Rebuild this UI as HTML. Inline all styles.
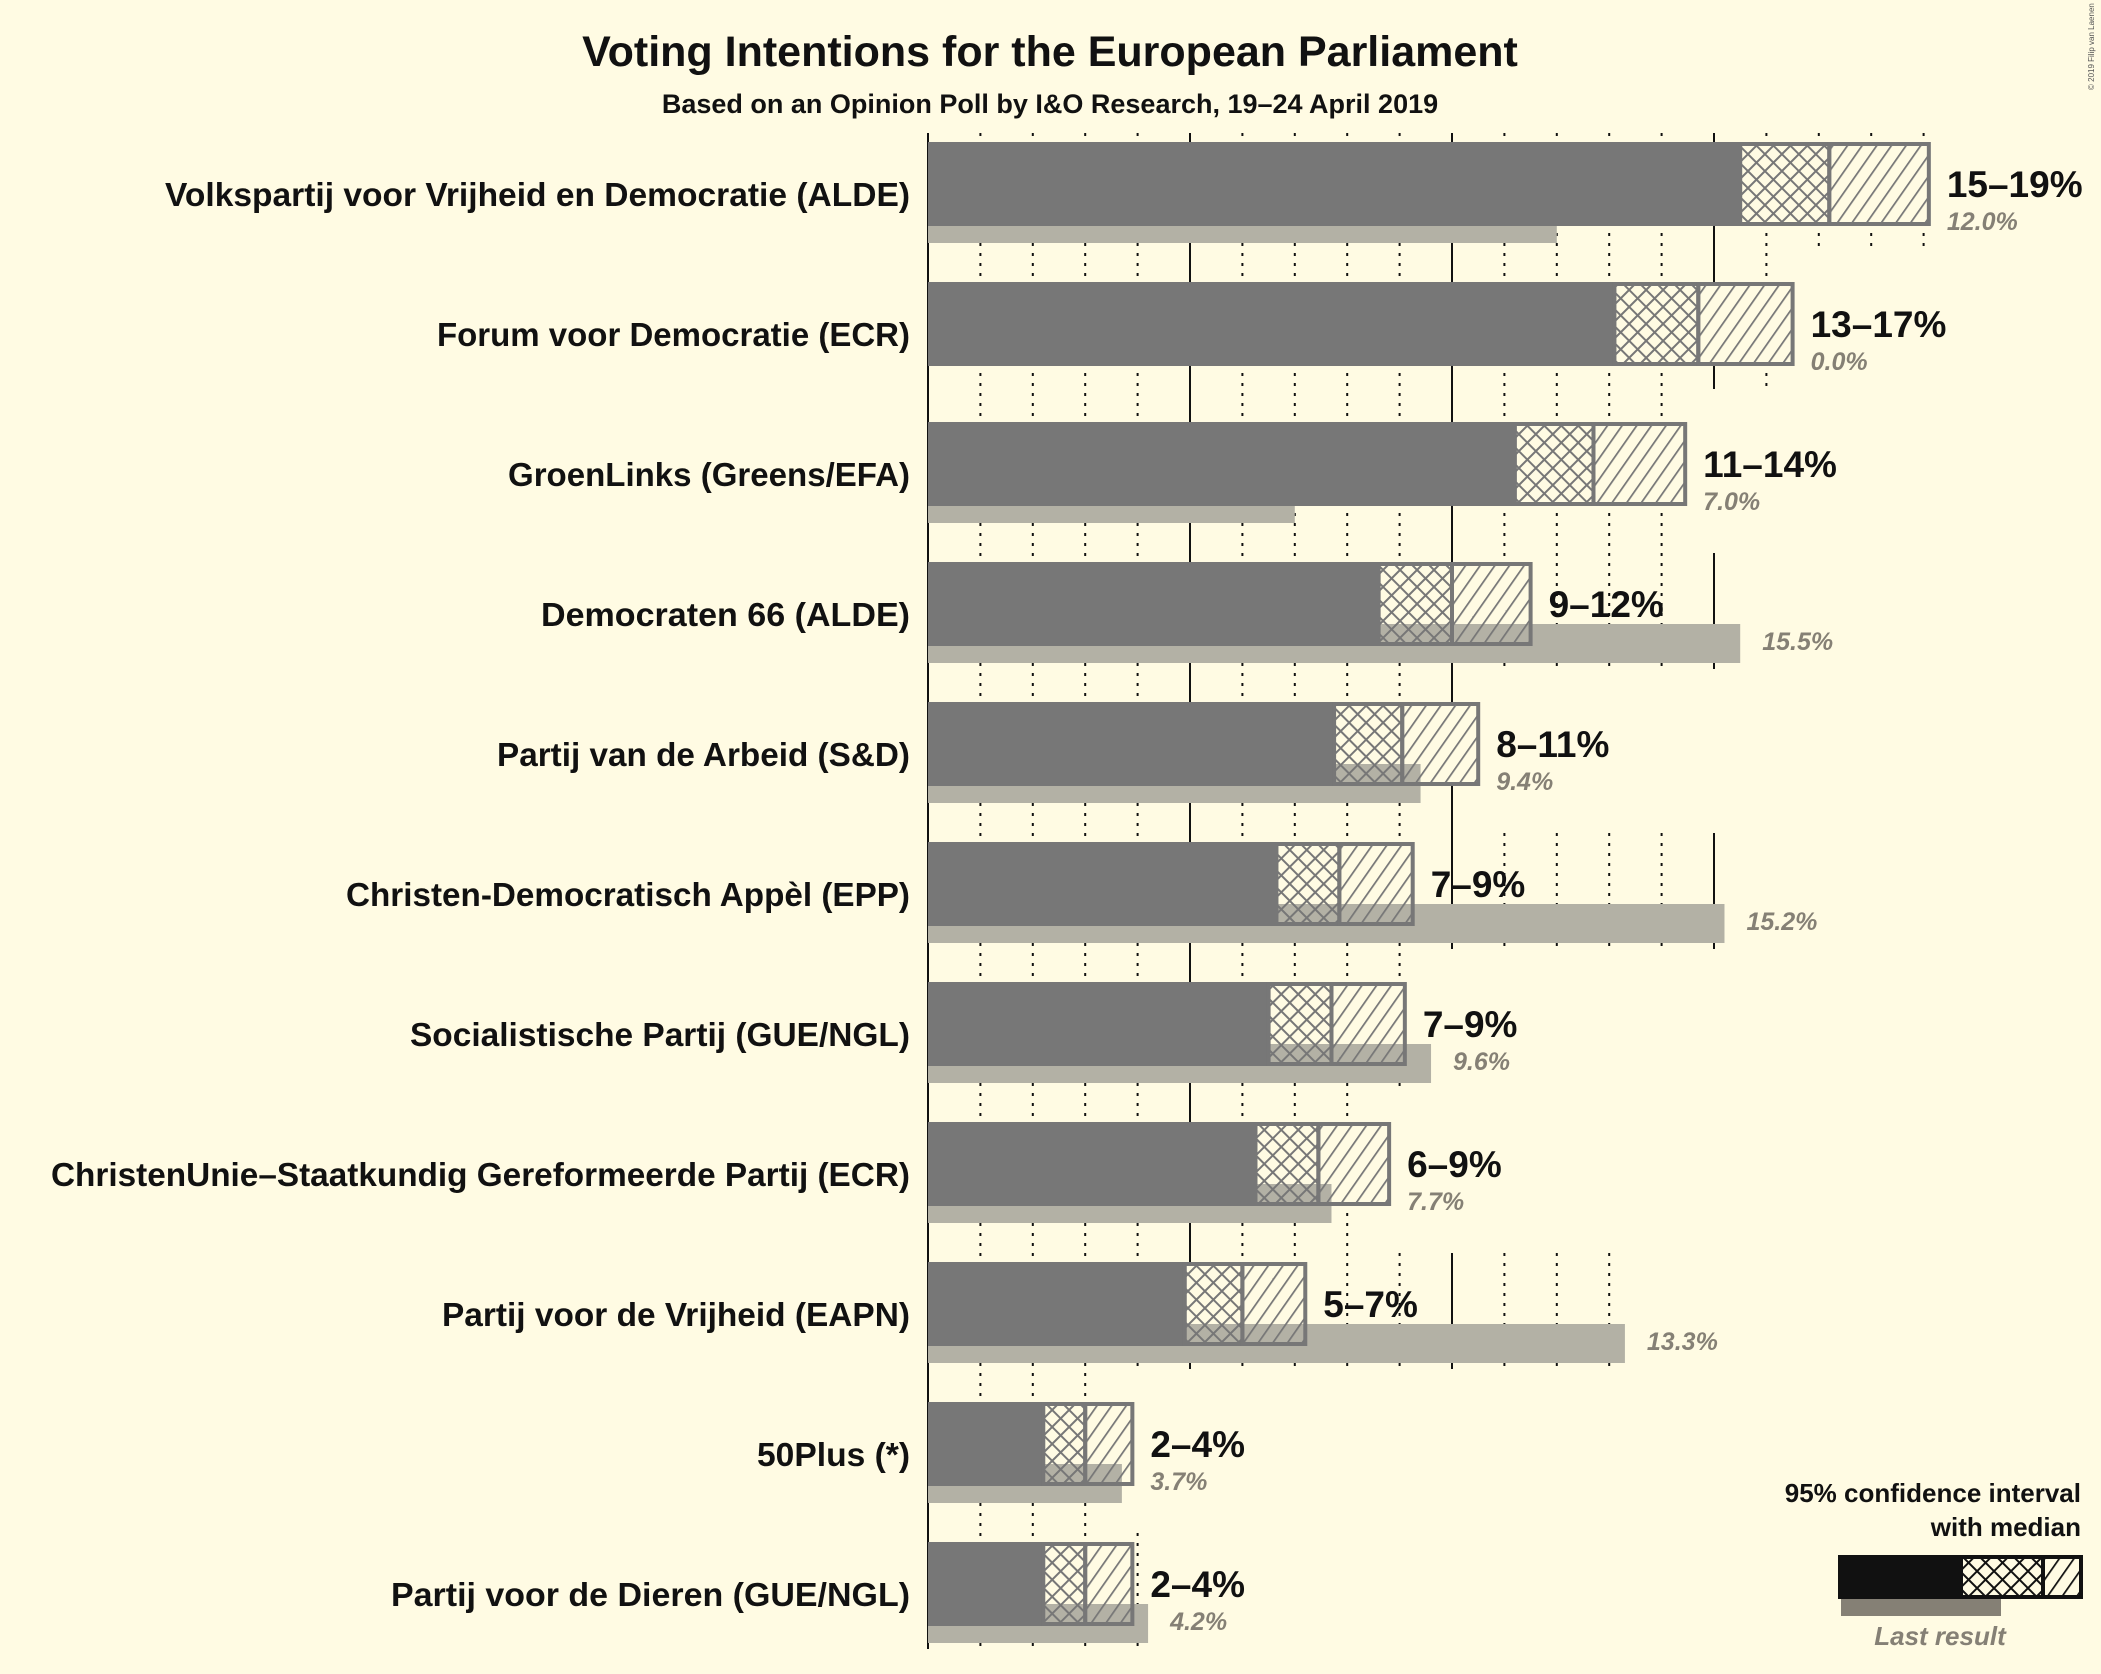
<!DOCTYPE html>
<html><head><meta charset="utf-8"><style>
html,body{margin:0;padding:0;background:#fffbe3;}
svg{display:block;font-family:"Liberation Sans",sans-serif;}
</style></head><body>
<svg id="chart" width="2101" height="1674" viewBox="0 0 2101 1674" xmlns="http://www.w3.org/2000/svg">
<defs>
<pattern id="cross" patternUnits="userSpaceOnUse" width="12" height="12" patternTransform="rotate(45)">
<line x1="0" y1="0" x2="0" y2="12" stroke="#777" stroke-width="4"/><line x1="0" y1="0" x2="12" y2="0" stroke="#777" stroke-width="4"/></pattern>
<pattern id="diag" patternUnits="userSpaceOnUse" width="12" height="12" patternTransform="rotate(35)">
<line x1="0" y1="0" x2="0" y2="12" stroke="#777" stroke-width="3.5"/></pattern>
<pattern id="crossK" patternUnits="userSpaceOnUse" width="12" height="12" patternTransform="rotate(45)">
<rect width="12" height="12" fill="#fffbe3"/><line x1="0" y1="0" x2="0" y2="12" stroke="#111" stroke-width="4"/><line x1="0" y1="0" x2="12" y2="0" stroke="#111" stroke-width="4"/></pattern>
<pattern id="diagK" patternUnits="userSpaceOnUse" width="12" height="12" patternTransform="rotate(35)">
<rect width="12" height="12" fill="#fffbe3"/><line x1="0" y1="0" x2="0" y2="12" stroke="#111" stroke-width="3.5"/></pattern>
</defs>
<rect width="2101" height="1674" fill="#fffbe3"/>
<text x="1050" y="66" text-anchor="middle" font-size="43" font-weight="bold" fill="#111">Voting Intentions for the European Parliament</text>
<text x="1050" y="113" text-anchor="middle" font-size="27" font-weight="bold" fill="#111">Based on an Opinion Poll by I&amp;O Research, 19–24 April 2019</text>
<text x="0" y="0" transform="translate(2094,90) rotate(-90)" font-size="8" fill="#555">© 2019 Filip van Laenen</text>
<g id="grid"></g><g id="bars"></g>
<g>
<text x="2081" y="1502" text-anchor="end" font-size="26" font-weight="bold" fill="#111">95% confidence interval</text>
<text x="2081" y="1536" text-anchor="end" font-size="26" font-weight="bold" fill="#111">with median</text>
<rect x="1841" y="1599" width="160" height="17" fill="#858075"/>
<rect x="1838" y="1555" width="123" height="44" fill="#111"/>
<rect x="1961" y="1557" width="82" height="40" fill="url(#crossK)" stroke="#111" stroke-width="4"/>
<rect x="2043" y="1557" width="38" height="40" fill="url(#diagK)" stroke="#111" stroke-width="4"/>
<text x="1940" y="1645" text-anchor="middle" font-size="26" font-style="italic" font-weight="bold" fill="#858075">Last result</text>
</g>
</svg>
<script>
const parties=["Volkspartij voor Vrijheid en Democratie (ALDE)","Forum voor Democratie (ECR)","GroenLinks (Greens/EFA)","Democraten 66 (ALDE)","Partij van de Arbeid (S&D)","Christen-Democratisch Appèl (EPP)","Socialistische Partij (GUE/NGL)","ChristenUnie–Staatkundig Gereformeerde Partij (ECR)","Partij voor de Vrijheid (EAPN)","50Plus (*)","Partij voor de Dieren (GUE/NGL)"];
const lows=[15.5,13.1,11.2,8.6,7.75,6.65,6.5,6.25,4.9,2.2,2.2];
const medians=[17.2,14.7,12.7,10.0,9.05,7.85,7.7,7.45,6.0,3.0,3.0];
const highs=[19.1,16.5,14.45,11.5,10.5,9.25,9.1,8.8,7.2,3.9,3.9];
const lastResults=[12.0,0.0,7.0,15.5,9.4,15.2,9.6,7.7,13.3,3.7,4.2];
const rangeLabels=["15–19%","13–17%","11–14%","9–12%","8–11%","7–9%","7–9%","6–9%","5–7%","2–4%","2–4%"];
const lastLabels=["12.0%","0.0%","7.0%","15.5%","9.4%","15.2%","9.6%","7.7%","13.3%","3.7%","4.2%"];
const labelLefts=[123,326,379,404,371,258,306,38,330,565,292];
const NS="http://www.w3.org/2000/svg";
const X0=928,PX=52.4;
const xs=v=>X0+v*PX;
const rowTop=i=>142+i*140;
const grid=document.getElementById('grid'),bars=document.getElementById('bars');
function mk(tag,attrs,parent){const e=document.createElementNS(NS,tag);for(const k in attrs)e.setAttribute(k,attrs[k]);parent.appendChild(e);return e;}
const rowMax=parties.map((p,i)=>Math.floor(Math.max(highs[i],lastResults[i])));
parties.forEach((p,i)=>{
  const t=rowTop(i);
  for(let v=0;v<=rowMax[i];v++){
    const solid=v%5===0;
    const cont=(i<parties.length-1&&rowMax[i+1]>=v);
    const l=mk('line',{x1:xs(v),x2:xs(v),y1:t-9,y2:cont?t+131:t+107,stroke:'#111','stroke-width':2,'stroke-dasharray':solid?'none':'3,7'},grid);
    
    
  }
  const bgc=mk('rect',{x:xs(lows[i]),y:t+2,width:(highs[i]-lows[i])*PX,height:80,fill:'#fffbe3'},bars);
  
  
  const lr=mk('rect',{x:xs(0),y:t+62,width:lastResults[i]*PX,height:39,fill:'#b3b1a5'},bars);
  
  
  const sb=mk('rect',{x:xs(0),y:t,width:lows[i]*PX,height:84,fill:'#777'},bars);
  
  
  const cb=mk('rect',{x:xs(lows[i]),y:t+2,width:(medians[i]-lows[i])*PX,height:80,fill:'url(#cross)',stroke:'#777','stroke-width':4},bars);
  
  
  const db=mk('rect',{x:xs(medians[i]),y:t+2,width:(highs[i]-medians[i])*PX,height:80,fill:'url(#diag)',stroke:'#777','stroke-width':4},bars);
  
  
  const lb=mk('text',{x:910,y:t+64,'text-anchor':'end','font-size':33,'font-weight':'bold',fill:'#111',textLength:(910-labelLefts[i]*1.34).toFixed(0),lengthAdjust:'spacingAndGlyphs'},bars);
  lb.textContent=p;
  
  
  const vx=xs(highs[i])+18;
  const rl=mk('text',{x:vx,y:t+55,'font-size':37,'font-weight':'bold',fill:'#111'},bars);
  rl.textContent=rangeLabels[i];
  
  
  const lx=Math.max(vx,xs(lastResults[i])+22);
  const ll=mk('text',{x:lx,y:t+88,'font-size':25,'font-style':'italic','font-weight':'bold',fill:'#858075'},bars);
  ll.textContent=lastLabels[i];
  
  
});
</script>
</body></html>
